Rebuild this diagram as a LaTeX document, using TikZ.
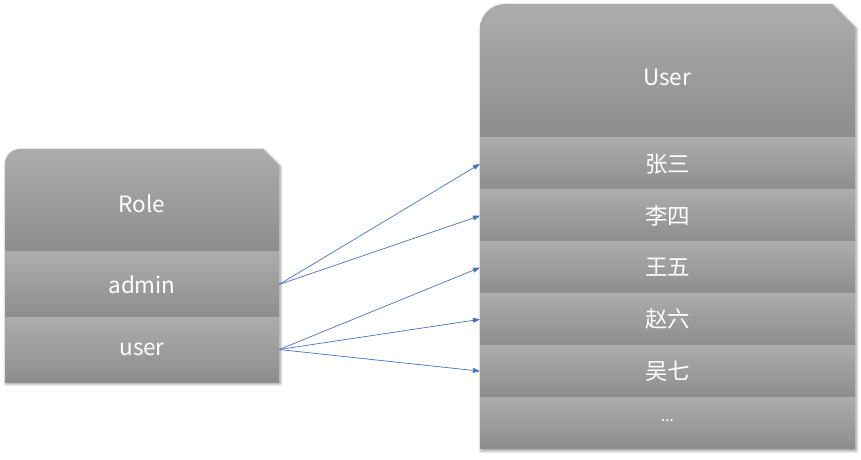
\documentclass[tikz,border=0pt]{standalone}
\usepackage{fontspec}
\setmainfont{Noto Sans CJK SC}
\usetikzlibrary{positioning,arrows.meta,shadows.blur}
\definecolor{boxtop}{HTML}{ACACAC}
\definecolor{boxbottom}{HTML}{8D8D8D}
\definecolor{linkblue}{HTML}{4472C4}
\tikzset{
  boxshade/.style={top color=boxtop, bottom color=boxbottom},
  rolerow/.style={boxshade, text=white,
    minimum width=6.85cm, minimum height=1.625cm, inner sep=0pt, outer sep=0pt},
  userrow/.style={rolerow, minimum width=9.375cm, minimum height=1.295cm},
  label/.style={text=white},
  link/.style={draw=linkblue, line width=0.5pt, -{Triangle[length=5pt,width=3.5pt]}},
  boxshadow/.style={fill=white, blur shadow={shadow xshift=0.8pt, shadow yshift=-1.2pt,
    shadow blur steps=6, shadow opacity=45}}
}
\begin{document}
\begin{tikzpicture}[x=0.025cm, y=0.025cm, font=\fontsize{16}{19}\selectfont]
	\useasboundingbox (0,0) rectangle (861,460);

	% Role table
	\path[boxshadow] (5,78) -- (5,296) arc[start angle=180, end angle=90, radius=15]
		-- (263,311) -- (279,295) -- (279,78) -- cycle;
	\shade[boxshade] (5,208) -- (5,296) arc[start angle=180, end angle=90, radius=15]
		-- (263,311) -- (279,295) -- (279,208) -- cycle;
	\node[label] (role) at (142,256) {Role};
	\node[rolerow, anchor=north west] (admin) at (5,208) {admin};
	\node[rolerow] (user) [below=0pt of admin] {user};

	% User table
	\path[boxshadow] (480,11) -- (480,431) arc[start angle=180, end angle=90, radius=25]
		-- (832,456) -- (855,433) -- (855,11) -- cycle;
	\shade[boxshade] (480,322) -- (480,431) arc[start angle=180, end angle=90, radius=25]
		-- (832,456) -- (855,433) -- (855,322) -- cycle;
	\node[label] (users) at (667,383) {User};
	\node[userrow, anchor=north west] (u1) at (480,322) {张三};
	\node[userrow] (u2) [below=0pt of u1] {李四};
	\node[userrow] (u3) [below=0pt of u2] {王五};
	\node[userrow] (u4) [below=0pt of u3] {赵六};
	\node[userrow] (u5) [below=0pt of u4] {吴七};
	\node[userrow] (u6) [below=0pt of u5] {\raisebox{0.4ex}{\fontsize{11}{12}\selectfont ...}};

	% links
	\draw[link] (admin.east) -- (u1.west);
	\draw[link] (admin.east) -- (u2.west);
	\draw[link] (user.east) -- (u3.west);
	\draw[link] (user.east) -- (u4.west);
	\draw[link] (user.east) -- (u5.west);
\end{tikzpicture}
\end{document}
